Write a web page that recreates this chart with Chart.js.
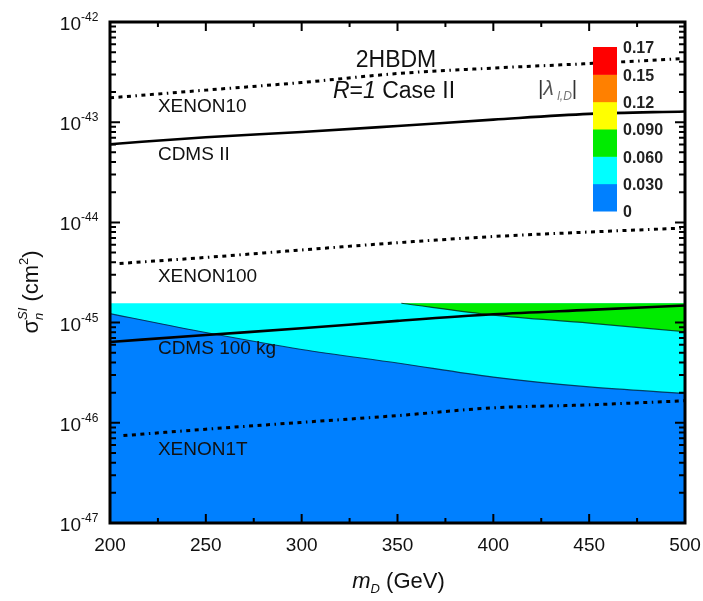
<!DOCTYPE html>
<html>
<head>
<meta charset="utf-8">
<title>2HBDM R=1 Case II</title>
<script src="https://cdn.jsdelivr.net/npm/chart.js@4/dist/chart.umd.min.js"></script>
<style>
  html, body { margin: 0; padding: 0; background: #fff; }
  #wrap { position: relative; width: 703px; height: 601px; }
</style>
</head>
<body>
<div id="wrap"><canvas id="limits-chart"></canvas></div>
<script>
  // dark matter mass (GeV) and cross section limits (cm^2)
  var massGeV = [200, 250, 300, 350, 400, 450, 500];
  var xenon10 = [1.75e-43, 2.09e-43, 2.49e-43, 3.06e-43, 3.47e-43, 3.85e-43, 4.33e-43];
  var cdmsII = [6.03e-44, 7.08e-44, 7.98e-44, 9.17e-44, 1.06e-43, 1.21e-43, 1.28e-43];
  var xenon100Mass = [205, 250, 300, 350, 400, 450, 500];
  var xenon100 = [3.89e-45, 4.47e-45, 5.31e-45, 6.27e-45, 7.23e-45, 8.02e-45, 8.79e-45];
  var cdms100kg = [6.40e-46, 7.52e-46, 8.77e-46, 1.04e-45, 1.21e-45, 1.34e-45, 1.48e-45];
  var xenon1tMass = [207, 250, 300, 350, 400, 450, 500];
  var xenon1t = [7.45e-47, 8.63e-47, 1.01e-46, 1.18e-46, 1.41e-46, 1.51e-46, 1.66e-46];

  // allowed |lambda_l,D| regions
  var regionTop = [1.56e-45, 1.56e-45, 1.56e-45, 1.56e-45, 1.56e-45, 1.56e-45, 1.56e-45];
  var edge030 = [1.23e-45, 7.96e-46, 5.39e-46, 3.95e-46, 2.86e-46, 2.28e-46, 1.96e-46];
  var greenMass = [352, 400, 450, 500];
  var edge060 = [1.56e-45, 1.19e-45, 9.9e-46, 8.1e-46];

  // colour scale
  var levelLabels = ['0', '0.030', '0.060', '0.090', '0.12', '0.15', '0.17'];
  var levelColors = ['rgb(0,128,255)', 'rgb(0,255,255)', 'rgb(0,235,0)', 'rgb(255,255,0)', 'rgb(255,128,0)', 'rgb(255,0,0)'];

  // axis ticks
  var xTicks = [200, 250, 300, 350, 400, 450, 500];
  var yExponents = [-42, -43, -44, -45, -46, -47];

  // curve labels (left edge in GeV, baseline in cm^2)
  var curveLabels = [
    { text: 'XENON10', x: 225, y: 1.26e-43 },
    { text: 'CDMS II', x: 225, y: 4.2e-44 },
    { text: 'XENON100', x: 225, y: 2.56e-45 },
    { text: 'CDMS 100 kg', x: 225, y: 4.86e-46 },
    { text: 'XENON1T', x: 225, y: 4.77e-47 }
  ];

  var FONT = '"Liberation Sans", Arial, Helvetica, sans-serif';

  function pts(xs, ys) {
    return xs.map(function(x, i) { return { x: x, y: ys[i] }; });
  }

  function limitLine(label, xs, ys, dashed) {
    return {
      label: label,
      data: pts(xs, ys),
      borderColor: '#000',
      borderWidth: dashed ? 3 : 2.6,
      borderDash: dashed ? [4, 4.5, 4, 4.5, 4, 4.5, 1.5, 4.5] : [],
      pointRadius: 0,
      fill: false,
      cubicInterpolationMode: 'monotone',
      order: 0
    };
  }

  // draw a run of text pieces: {t, size, italic, dy, color}
  function richText(ctx, parts, x, y, align) {
    var total = 0;
    parts.forEach(function(p) {
      ctx.font = (p.italic ? 'italic ' : '') + (p.bold ? 'bold ' : '') + p.size + 'px ' + FONT;
      p.w = ctx.measureText(p.t).width;
      total += p.w;
    });
    var cx = align === 'center' ? x - total / 2 : (align === 'right' ? x - total : x);
    ctx.textAlign = 'left';
    ctx.textBaseline = 'alphabetic';
    parts.forEach(function(p) {
      ctx.font = (p.italic ? 'italic ' : '') + (p.bold ? 'bold ' : '') + p.size + 'px ' + FONT;
      ctx.fillStyle = p.color || '#111';
      ctx.fillText(p.t, cx, y + (p.dy || 0));
      cx += p.w;
    });
  }

  var decorations = {
    id: 'decorations',
    afterDatasetsDraw: function(chart) {
      var ctx = chart.ctx;
      var xs = chart.scales.x, ys = chart.scales.y;
      ctx.save();

      // curve names
      ctx.font = '19px ' + FONT;
      ctx.fillStyle = '#111';
      ctx.textAlign = 'left';
      ctx.textBaseline = 'alphabetic';
      curveLabels.forEach(function(l) {
        ctx.fillText(l.text, xs.getPixelForValue(l.x), ys.getPixelForValue(l.y));
      });

      // model header
      richText(ctx, [{ t: '2HBDM', size: 23 }], 396, 67, 'center');
      richText(ctx, [
        { t: 'R', size: 23, italic: true },
        { t: '=', size: 23 },
        { t: '1', size: 23, italic: true },
        { t: ' Case II', size: 23 }
      ], 333, 98, 'left');

      // colour bar
      var bx = 593, bw = 24, top = 47, h = 164 / levelColors.length;
      for (var i = 0; i < levelColors.length; i++) {
        ctx.fillStyle = levelColors[i];
        ctx.fillRect(bx, top + h * (levelColors.length - 1 - i), bw, h + 0.5);
      }
      ctx.font = 'bold 16px ' + FONT;
      ctx.fillStyle = '#222';
      ctx.textBaseline = 'middle';
      for (var j = 0; j < levelLabels.length; j++) {
        ctx.fillText(levelLabels[j], 623, top + h * (levelLabels.length - 1 - j) + 2);
      }
      ctx.textBaseline = 'alphabetic';
      richText(ctx, [
        { t: '|', size: 21, color: '#333' },
        { t: '\u03bb', size: 21, italic: true, color: '#555' },
        { t: ' l,D', size: 12, italic: true, dy: 5, color: '#777' },
        { t: '|', size: 21, color: '#333' }
      ], 538, 95, 'left');

      ctx.restore();
    },
    afterDraw: function(chart) {
      var ctx = chart.ctx, a = chart.chartArea;
      var xs = chart.scales.x, ys = chart.scales.y;
      ctx.save();
      ctx.strokeStyle = '#000';

      // inward ticks, all four sides
      ctx.lineWidth = 2;
      ctx.beginPath();
      for (var v = 200; v <= 500; v += 25) {
        var px = xs.getPixelForValue(v);
        var len = (v % 50 === 0) ? 9 : 5;
        ctx.moveTo(px, a.bottom); ctx.lineTo(px, a.bottom - len);
        ctx.moveTo(px, a.top); ctx.lineTo(px, a.top + len);
      }
      for (var e = -47; e < -42; e++) {
        for (var m = 1; m < 10; m++) {
          var py = ys.getPixelForValue(m * Math.pow(10, e));
          var l2 = m === 1 ? 10 : 6;
          ctx.moveTo(a.left, py); ctx.lineTo(a.left + l2, py);
          ctx.moveTo(a.right, py); ctx.lineTo(a.right - l2, py);
        }
      }
      ctx.stroke();

      // frame
      ctx.lineWidth = 3;
      ctx.strokeRect(a.left, a.top, a.right - a.left, a.bottom - a.top);

      // x tick labels
      ctx.fillStyle = '#111';
      ctx.font = '19px ' + FONT;
      ctx.textAlign = 'center';
      ctx.textBaseline = 'alphabetic';
      xTicks.forEach(function(t) {
        ctx.fillText(String(t), xs.getPixelForValue(t), a.bottom + 28);
      });

      // y tick labels, 10 with raised exponent
      yExponents.forEach(function(ex) {
        var py = ys.getPixelForValue(Math.pow(10, ex));
        ctx.font = '19px ' + FONT;
        ctx.textAlign = 'right';
        ctx.fillText('10', 81, py + 8);
        ctx.font = '12px ' + FONT;
        ctx.textAlign = 'left';
        ctx.fillText('-' + String(-ex), 81, py - 1);
      });

      // x title
      richText(ctx, [
        { t: 'm', size: 22, italic: true },
        { t: 'D', size: 13, italic: true, dy: 5 },
        { t: ' (GeV)', size: 22 }
      ], (a.left + a.right) / 2 + 1, 588, 'center');

      // y title, rotated
      ctx.translate(38, 292);
      ctx.rotate(-Math.PI / 2);
      ctx.font = '22px ' + FONT;
      var w1 = ctx.measureText('\u03c3').width;
      ctx.font = '13px ' + FONT;
      var w2 = ctx.measureText('SI').width;
      ctx.font = '22px ' + FONT;
      var w3 = ctx.measureText(' (cm').width;
      ctx.font = '13px ' + FONT;
      var w4 = ctx.measureText('2').width;
      ctx.font = '22px ' + FONT;
      var w5 = ctx.measureText(')').width;
      var sx = -(w1 + w2 + w3 + w4 + w5) / 2;
      ctx.textAlign = 'left';
      ctx.fillText('\u03c3', sx, 0);
      ctx.font = 'italic 13px ' + FONT;
      ctx.fillText('SI', sx + w1, -11);
      ctx.fillText('n', sx + w1, 5);
      ctx.font = '22px ' + FONT;
      ctx.fillText(' (cm', sx + w1 + w2, 0);
      ctx.font = '13px ' + FONT;
      ctx.fillText('2', sx + w1 + w2 + w3, -10);
      ctx.font = '22px ' + FONT;
      ctx.fillText(')', sx + w1 + w2 + w3 + w4, 0);

      ctx.restore();
    }
  };

  var ctx = document.getElementById('limits-chart').getContext('2d');
  var chart = new Chart(ctx, {
    type: 'line',
    data: {
      datasets: [
        limitLine('XENON10', massGeV, xenon10, true),
        limitLine('CDMS II', massGeV, cdmsII, false),
        limitLine('XENON100', xenon100Mass, xenon100, true),
        limitLine('CDMS 100 kg', massGeV, cdms100kg, false),
        limitLine('XENON1T', xenon1tMass, xenon1t, true),
        {
          label: '0 - 0.030',
          data: pts(massGeV, edge030),
          borderColor: 'rgba(0,30,60,0.8)',
          borderWidth: 1.2,
          backgroundColor: levelColors[0],
          fill: 'start',
          pointRadius: 0,
          cubicInterpolationMode: 'monotone',
          order: 1
        },
        {
          label: '0.060 - 0.090',
          data: pts(greenMass, edge060),
          borderColor: 'rgba(0,40,20,0.8)',
          borderWidth: 1.2,
          backgroundColor: levelColors[2],
          fill: { value: regionTop[0] },
          pointRadius: 0,
          cubicInterpolationMode: 'monotone',
          order: 2
        },
        {
          label: '0.030 - 0.060',
          data: pts(massGeV, regionTop),
          borderColor: 'rgba(0,0,0,0)',
          borderWidth: 0,
          backgroundColor: levelColors[1],
          fill: 'start',
          pointRadius: 0,
          order: 3
        }
      ]
    },
    options: {
      responsive: true,
      maintainAspectRatio: false,
      animation: false,
      layout: { padding: { left: 110, right: 18, top: 22, bottom: 78 } },
      plugins: {
        legend: { display: false },
        tooltip: { enabled: false }
      },
      scales: {
        x: { type: 'linear', min: 200, max: 500, display: false },
        y: { type: 'logarithmic', min: 1e-47, max: 1e-42, display: false }
      }
    },
    plugins: [decorations]
  });
</script>
</body>
</html>
